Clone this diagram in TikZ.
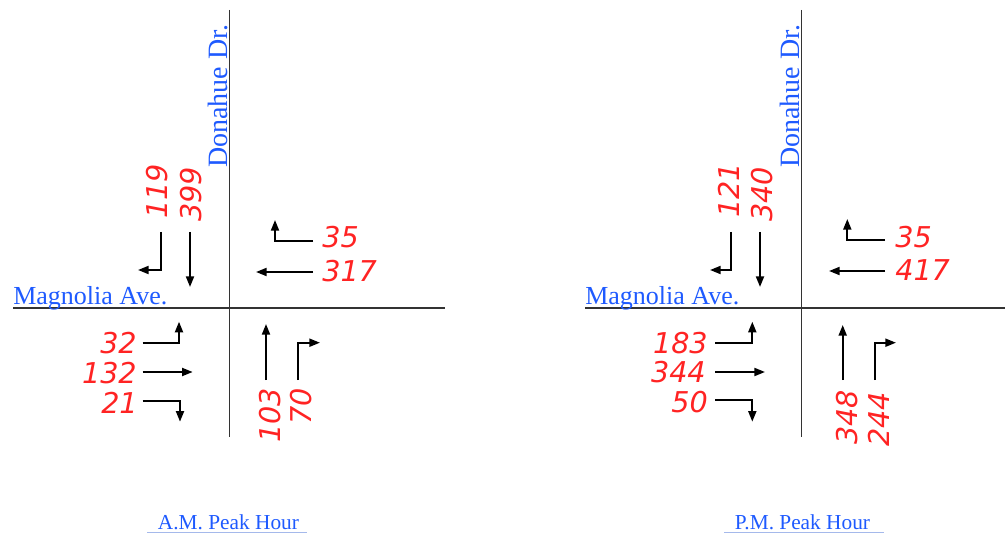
\documentclass[tikz,border=0pt]{standalone}
\usepackage{fontspec}
\setmainfont{Liberation Serif}
\newfontfamily\volfont{DejaVu Sans}
\usetikzlibrary{arrows.meta}
\definecolor{streetblue}{RGB}{30,90,255}
\definecolor{volred}{RGB}{255,35,35}
\definecolor{rulelight}{RGB}{165,185,235}

\begin{document}
\begin{tikzpicture}[x=.75pt,y=-.75pt,
  road/.style={draw=black!80,line width=.8pt},
  mov/.style={draw=black,line width=1.5pt,-{Triangle[length=8pt,width=6pt]}},
  vol/.style={text=volred,font=\volfont\itshape\fontsize{21.5}{25}\selectfont,inner sep=0pt},
  street/.style={text=streetblue,font=\fontsize{19.5}{24}\selectfont,inner sep=0pt},
  peak/.style={text=streetblue,font=\fontsize{16}{19}\selectfont,inner sep=0pt}]
\useasboundingbox (0,0) rectangle (1005,534);
% A.M. intersection
\draw[road] (229.5,10) -- (229.5,437);
\draw[road] (13,308) -- (445,308);
\node[street,anchor=base west] (amMag) at (13,304) {Magnolia Ave.};
\node[street,font=\fontsize{21}{24}\selectfont,anchor=base west,rotate=90] (amDon) at (227,168) {Donahue Dr.};
\node[vol,anchor=west,rotate=90] (amSBr) at (157,219) {119};
\node[vol,anchor=west,rotate=90] (amSBt) at (191,222) {399};
\draw[mov] (160.7,232) -- (160.7,270) -- (138,270);
\draw[mov] (190,232) -- (190,287);
\node[vol,anchor=west] (amWBr) at (322,237) {35};
\node[vol,anchor=west] (amWBt) at (322,271) {317};
\draw[mov] (313,240.7) -- (275,240.7) -- (275,220);
\draw[mov] (313,272) -- (256,272);
\node[vol,anchor=east] (amEBl) at (137,343) {32};
\node[vol,anchor=east] (amEBt) at (137,373) {132};
\node[vol,anchor=east] (amEBr) at (138,403) {21};
\draw[mov] (142.7,342.7) -- (179,342.7) -- (179,321.7);
\draw[mov] (142.7,372) -- (192.7,372);
\draw[mov] (142.7,400.7) -- (180,400.7) -- (180,421.7);
\node[vol,anchor=east,rotate=90] (amNBt) at (270,388) {103};
\node[vol,anchor=east,rotate=90] (amNBr) at (301,388) {70};
\draw[mov] (266,380) -- (266,324);
\draw[mov] (298,380) -- (298,342.7) -- (320,342.7);
\node[peak,anchor=base] (amTitle) at (228.5,529) {A.M. Peak Hour};
\draw[rulelight,line width=.6pt] (147,532.7) -- (307,532.7);
% P.M. intersection
\draw[road] (801.7,10) -- (801.7,437);
\draw[road] (585,308) -- (1005,308);
\node[street,anchor=base west] (pmMag) at (585,304) {Magnolia Ave.};
\node[street,font=\fontsize{21}{24}\selectfont,anchor=base west,rotate=90] (pmDon) at (799,168) {Donahue Dr.};
\node[vol,anchor=west,rotate=90] (pmSBr) at (729,218) {121};
\node[vol,anchor=west,rotate=90] (pmSBt) at (762,222) {340};
\draw[mov] (730.7,232) -- (730.7,270) -- (710,270);
\draw[mov] (760,232) -- (760,287);
\node[vol,anchor=west] (pmWBr) at (895,237) {35};
\node[vol,anchor=west] (pmWBt) at (895,270) {417};
\draw[mov] (885,240) -- (847.3,240) -- (847.3,219);
\draw[mov] (885,271) -- (829,271);
\node[vol,anchor=east] (pmEBl) at (708,343) {183};
\node[vol,anchor=east] (pmEBt) at (706,372) {344};
\node[vol,anchor=east] (pmEBr) at (708,402) {50};
\draw[mov] (715,342.7) -- (752.3,342.7) -- (752.3,321.7);
\draw[mov] (715,372) -- (765,372);
\draw[mov] (715,400) -- (752.3,400) -- (752.3,421.7);
\node[vol,anchor=east,rotate=90] (pmNBt) at (847,390) {348};
\node[vol,anchor=east,rotate=90] (pmNBr) at (879,392) {244};
\draw[mov] (842.7,380) -- (842.7,325);
\draw[mov] (875,380) -- (875,342.7) -- (896,342.7);
\node[peak,anchor=base] (pmTitle) at (802.5,529) {P.M. Peak Hour};
\draw[rulelight,line width=.6pt] (724,532.7) -- (884,532.7);
\end{tikzpicture}
\end{document}
